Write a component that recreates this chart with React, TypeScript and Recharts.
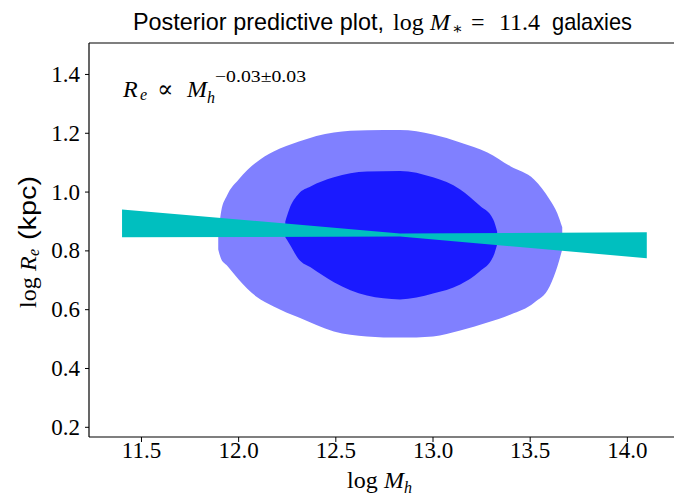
import { ComposedChart, Area, XAxis, YAxis, ReferenceLine } from 'recharts';

// outer (95%) contour, log Mh vs log Re
const outerX = [11.895, 11.91, 11.94, 12.00, 12.09, 12.18, 12.31, 12.49, 12.66, 12.83, 13.00, 13.14, 13.28, 13.40, 13.52, 13.60, 13.64, 13.665];
const outerHigh = [0.850, 0.934, 0.988, 1.043, 1.101, 1.138, 1.172, 1.203, 1.210, 1.211, 1.196, 1.169, 1.135, 1.087, 1.043, 0.975, 0.927, 0.880];
const outerLow = [0.805, 0.772, 0.750, 0.703, 0.645, 0.611, 0.573, 0.526, 0.509, 0.505, 0.509, 0.529, 0.556, 0.584, 0.624, 0.679, 0.747, 0.805];

// inner (68%) contour
const innerX = [12.24, 12.26, 12.31, 12.37, 12.49, 12.66, 12.83, 13.00, 13.14, 13.24, 13.31, 13.33];
const innerHigh = [0.900, 0.941, 0.995, 1.019, 1.050, 1.070, 1.072, 1.050, 1.009, 0.954, 0.907, 0.866];
const innerLow = [0.846, 0.825, 0.771, 0.744, 0.693, 0.648, 0.635, 0.655, 0.686, 0.730, 0.781, 0.822];

// fitted relation band
const bandX = [11.4, 12.83, 14.1];
const bandHigh = [0.941, 0.859, 0.863];
const bandLow = [0.846, 0.849, 0.775];

const xTicks = [11.5, 12.0, 12.5, 13.0, 13.5, 14.0];
const yTicks = [0.2, 0.4, 0.6, 0.8, 1.0, 1.2, 1.4];

const X_MIN = 11.23;
const X_MAX = 14.24;
const Y_MIN = 0.167;
const Y_MAX = 1.507;

type Row = { x: number; outer?: [number, number]; inner?: [number, number]; band?: [number, number] };

function buildRows(): Row[] {
  const map = new Map<number, Row>();
  const get = (x: number) => {
    if (!map.has(x)) map.set(x, { x });
    return map.get(x)!;
  };
  outerX.forEach((x, i) => (get(x).outer = [outerLow[i], outerHigh[i]]));
  innerX.forEach((x, i) => (get(x).inner = [innerLow[i], innerHigh[i]]));
  bandX.forEach((x, i) => (get(x).band = [bandLow[i], bandHigh[i]]));
  return Array.from(map.values()).sort((a, b) => a.x - b.x);
}

const rows = buildRows();

const SERIF = '"Liberation Serif", "DejaVu Serif", serif';
const SANS = '"Liberation Sans", "DejaVu Sans", sans-serif';

function XTick(props: any) {
  const { x, y, payload } = props;
  return (
    <text x={x} y={y + 16} textAnchor="middle" fontFamily={SERIF} fontSize={23} fill="#000">
      {Number(payload.value).toFixed(1)}
    </text>
  );
}

function YTick(props: any) {
  const { x, y, payload } = props;
  return (
    <text x={x} y={y + 7.5} textAnchor="end" fontFamily={SERIF} fontSize={23} fill="#000">
      {Number(payload.value).toFixed(1)}
    </text>
  );
}

export default function App() {
  return (
    <div style={{ position: 'absolute', left: 0, top: 0, width: 674, height: 497, background: '#fff' }}>
      <ComposedChart width={674} height={497} data={rows} margin={{ top: 43, right: 0, left: 0, bottom: 0 }}>
        <XAxis
          type="number"
          dataKey="x"
          domain={[X_MIN, X_MAX]}
          allowDataOverflow
          ticks={xTicks}
          height={60}
          tickSize={5}
          tickMargin={0}
          tick={<XTick />}
          axisLine={{ stroke: '#000', strokeWidth: 1.2 }}
          tickLine={{ stroke: '#000' }}
        />
        <YAxis
          type="number"
          domain={[Y_MIN, Y_MAX]}
          allowDataOverflow
          ticks={yTicks}
          width={89}
          tickSize={4}
          tickMargin={5}
          tick={<YTick />}
          axisLine={{ stroke: '#000', strokeWidth: 1.2 }}
          tickLine={{ stroke: '#000' }}
        />
        <ReferenceLine y={Y_MAX} stroke="#000" strokeWidth={1.2} />
        <Area dataKey="outer" type="monotone" stroke="none" fill="#8080ff" fillOpacity={1} connectNulls isAnimationActive={false} dot={false} activeDot={false} />
        <Area dataKey="inner" type="monotone" stroke="none" fill="#1a1aff" fillOpacity={1} connectNulls isAnimationActive={false} dot={false} activeDot={false} />
        <Area dataKey="band" type="linear" stroke="none" fill="#00bfbf" fillOpacity={1} connectNulls isAnimationActive={false} dot={false} activeDot={false} />
      </ComposedChart>
      <svg width={674} height={497} style={{ position: 'absolute', left: 0, top: 0, pointerEvents: 'none' }}>
        {/* title */}
        <g fill="#000">
          <text x={133} y={30} fontFamily={SANS} fontSize={24} textLength={251} lengthAdjust="spacingAndGlyphs">Posterior predictive plot,</text>
          <text x={393} y={30} fontFamily={SERIF} fontSize={24}>log</text>
          <text x={430} y={30} fontFamily={SERIF} fontSize={24} fontStyle="italic">M</text>
          <text x={452} y={34} fontFamily={SERIF} fontSize={16}>∗</text>
          <text x={471} y={30} fontFamily={SERIF} fontSize={24}>=</text>
          <text x={499} y={30} fontFamily={SERIF} fontSize={24}>11.4</text>
          <text x={552} y={30} fontFamily={SANS} fontSize={24} textLength={80} lengthAdjust="spacingAndGlyphs">galaxies</text>
        </g>
        {/* annotation */}
        <g fill="#000" fontFamily={SERIF}>
          <text x={123} y={97} fontSize={24} fontStyle="italic">R</text>
          <text x={140} y={100} fontSize={16} fontStyle="italic">e</text>
          <text x={157} y={97} fontSize={24} fontFamily='"DejaVu Serif", serif'>∝</text>
          <text x={187} y={97} fontSize={24} fontStyle="italic">M</text>
          <text x={207} y={103} fontSize={16} fontStyle="italic">h</text>
          <text x={215} y={82} fontSize={16} textLength={91} lengthAdjust="spacingAndGlyphs">−0.03±0.03</text>
        </g>
        {/* x label */}
        <g fill="#000" fontFamily={SERIF}>
          <text x={347} y={488} fontSize={24}>log</text>
          <text x={384} y={488} fontSize={24} fontStyle="italic">M</text>
          <text x={404} y={493} fontSize={16} fontStyle="italic">h</text>
        </g>
        {/* y label */}
        <g fill="#000" transform="translate(36,0) rotate(-90)">
          <text x={-308} y={0} fontFamily={SERIF} fontSize={24}>log</text>
          <text x={-271} y={0} fontFamily={SERIF} fontSize={24} fontStyle="italic">R</text>
          <text x={-256} y={3} fontFamily={SERIF} fontSize={16} fontStyle="italic">e</text>
          <text x={-240} y={0} fontFamily={SANS} fontSize={23} textLength={64} lengthAdjust="spacingAndGlyphs">(kpc)</text>
        </g>
      </svg>
    </div>
  );
}
